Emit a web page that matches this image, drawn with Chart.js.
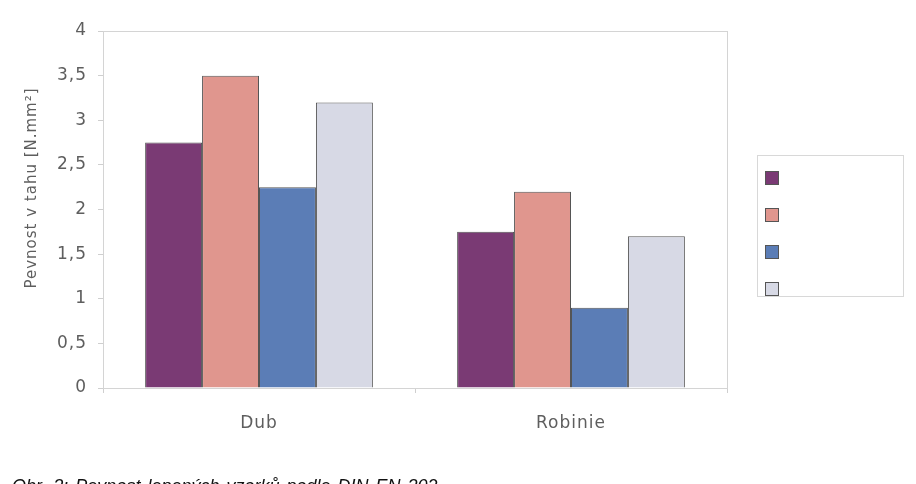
<!DOCTYPE html>
<html>
<head>
<meta charset="utf-8">
<script src="https://cdn.jsdelivr.net/npm/chart.js@4/dist/chart.umd.min.js"></script>
<style>
  html, body { margin: 0; padding: 0; background: #ffffff; }
  #wrap { width: 916px; height: 484px; position: relative; }
</style>
</head>
<body>
<div id="wrap"><canvas id="c" width="916" height="484"></canvas></div>
<script>
// Wood species on the category axis
const categories = ['Dub', 'Robinie'];

// Tensile strength per adhesive series [N/mm²]
const series1 = [2.75, 1.75];
const series2 = [3.5, 2.2];
const series3 = [2.25, 0.9];
const series4 = [3.2, 1.7];

const seriesColors = ['#7a3a74', '#e0968e', '#5b7db6', '#d7d9e5'];
const axisTitle = 'Pevnost v tahu [N.mm²]';
const caption = 'Obr. 3: Pevnost lepených vzorků podle DIN EN 302';

const FONT = '"DejaVu Sans", "Liberation Sans", sans-serif';
const TEXT = '#5e5e5e';
const SPACING = '1px';

// Slightly widened lettering for all axis text
const spacing = {
  id: 'spacing',
  beforeUpdate(chart) { chart.ctx.letterSpacing = SPACING; },
  beforeDraw(chart) { chart.ctx.letterSpacing = SPACING; }
};

// Frame around the plot area (top and right edges)
const frame = {
  id: 'frame',
  beforeDatasetsDraw(chart) {
    const { ctx, chartArea: a } = chart;
    ctx.save();
    ctx.strokeStyle = '#d4d4d4';
    ctx.lineWidth = 1;
    ctx.strokeRect(a.left + 0.5, a.top + 0.5, a.right - a.left, a.bottom - a.top);
    ctx.restore();
  }
};

// Rotated value-axis title, set a little above the plot's middle
const yTitle = {
  id: 'yTitle',
  afterDraw(chart) {
    const { ctx } = chart;
    ctx.save();
    ctx.letterSpacing = SPACING;
    ctx.font = '15px ' + FONT;
    ctx.fillStyle = TEXT;
    ctx.textAlign = 'center';
    ctx.textBaseline = 'middle';
    ctx.translate(32, 188);
    ctx.rotate(-Math.PI / 2);
    ctx.fillText(axisTitle, 0, 0);
    ctx.restore();
  }
};

// Boxed legend with colour swatches only
const swatchLegend = {
  id: 'swatchLegend',
  afterDraw(chart) {
    const { ctx } = chart;
    ctx.save();
    ctx.strokeStyle = '#d8d8d8';
    ctx.lineWidth = 1;
    ctx.strokeRect(757.5, 155.5, 146, 141);
    chart.data.datasets.forEach((ds, i) => {
      const y = 171 + i * 37;
      ctx.fillStyle = ds.backgroundColor;
      ctx.fillRect(765, y, 14, 14);
      ctx.strokeStyle = '#555';
      ctx.strokeRect(765.5, y + 0.5, 13, 13);
    });
    ctx.restore();
  }
};

// Figure caption beneath the chart (runs off the bottom edge)
const captionPlugin = {
  id: 'caption',
  afterDraw(chart) {
    const { ctx } = chart;
    ctx.save();
    ctx.letterSpacing = '0px';
    ctx.wordSpacing = '2px';
    ctx.font = 'italic 18px "Liberation Sans", Arial, sans-serif';
    ctx.fillStyle = '#111';
    ctx.textBaseline = 'alphabetic';
    ctx.textAlign = 'left';
    ctx.fillText(caption, 12, 492);
    ctx.restore();
  }
};

const mk = (data, i) => ({
  label: '',
  data,
  backgroundColor: seriesColors[i],
  borderColor: '#555555',
  borderWidth: 1,
  borderSkipped: 'bottom'
});

new Chart(document.getElementById('c'), {
  type: 'bar',
  data: {
    labels: categories,
    datasets: [mk(series1, 0), mk(series2, 1), mk(series3, 2), mk(series4, 3)]
  },
  options: {
    responsive: false,
    animation: false,
    events: [],
    layout: { padding: { top: 31, right: 189, bottom: 0, left: 0 } },
    datasets: { bar: { categoryPercentage: 0.73, barPercentage: 1 } },
    plugins: { legend: { display: false }, tooltip: { enabled: false } },
    scales: {
      x: {
        afterFit: s => { s.height = 96; },
        grid: { display: true, drawOnChartArea: false, offset: true, tickLength: 5, color: '#cfcfcf' },
        border: { display: true, color: '#bdbdbd' },
        ticks: { color: TEXT, padding: 20, font: { family: FONT, size: 17 } }
      },
      y: {
        min: 0,
        max: 4,
        afterFit: s => { s.width = 103; },
        grid: { display: true, drawOnChartArea: false, tickLength: 5, color: '#cfcfcf' },
        border: { display: true, color: '#bdbdbd' },
        ticks: {
          stepSize: 0.5,
          color: TEXT,
          padding: 11,
          font: { family: FONT, size: 17 },
          callback: v => String(v).replace('.', ',')
        }
      }
    }
  },
  plugins: [spacing, frame, yTitle, swatchLegend, captionPlugin]
});
</script>
</body>
</html>
